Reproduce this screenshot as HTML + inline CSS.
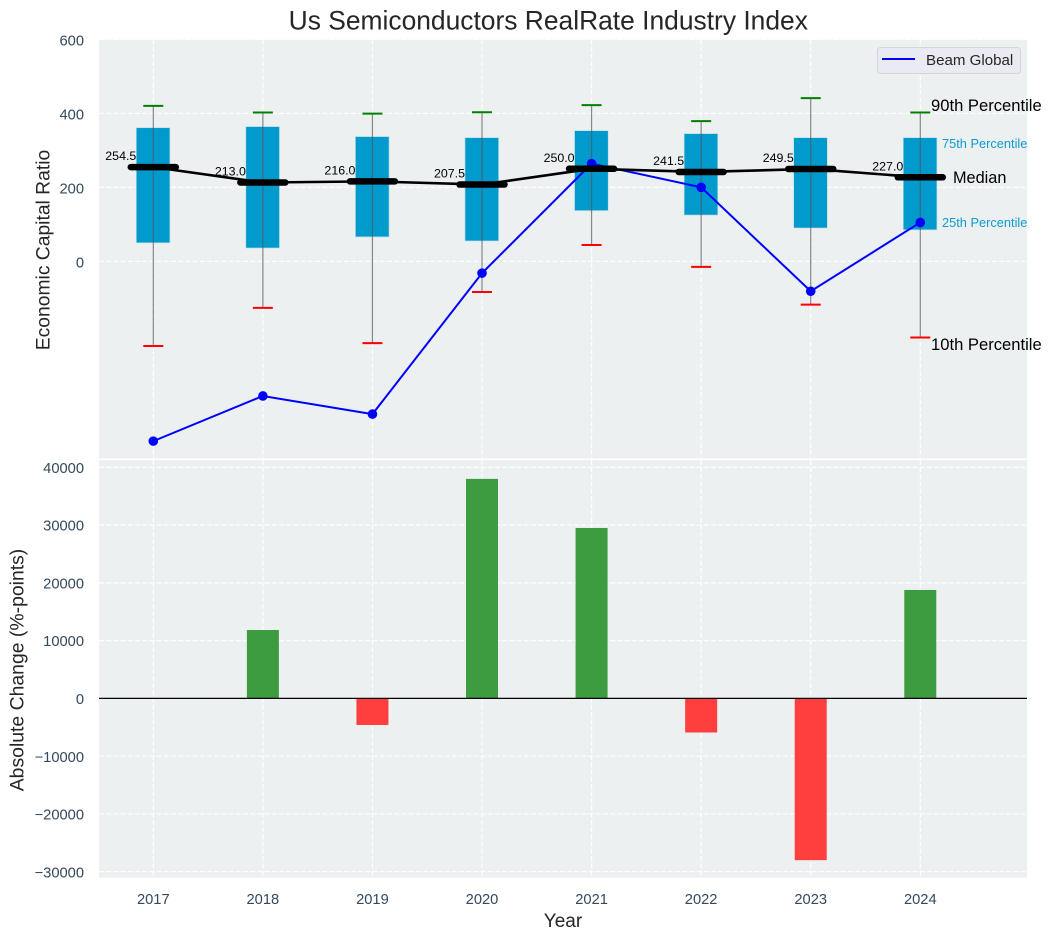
<!DOCTYPE html>
<html lang="en">
<head>
<meta charset="utf-8">
<title>Us Semiconductors RealRate Industry Index</title>
<style>
html,body{margin:0;padding:0;background:#fff;}
svg{display:block;font-family:"Liberation Sans",Arial,sans-serif;}
</style>
</head>
<body>
<svg id="chart" xmlns="http://www.w3.org/2000/svg" width="1051" height="940" viewBox="0 0 1051 940">
  <rect x="99" y="39.5" width="928" height="419" fill="#ecf0f1"/>
  <rect x="99" y="460" width="928" height="417.7" fill="#ecf0f1"/>
  <g id="grid"></g>
  <g id="bars"></g>
  <line x1="99" x2="1027" y1="698.4" y2="698.4" stroke="#000" stroke-width="1.2"/>
  <g id="boxes"></g>
  <g id="series"></g>
  <g id="medians"></g>
  <g id="ticks" font-size="14.7" fill="#34495e"></g>
  <text x="548.3" y="29.5" text-anchor="middle" font-size="26.4" fill="#262626">Us Semiconductors RealRate Industry Index</text>
  <text transform="translate(49.5,250) rotate(-90)" text-anchor="middle" font-size="19.3" fill="#262626">Economic Capital Ratio</text>
  <text transform="translate(23.5,670) rotate(-90)" text-anchor="middle" font-size="19.4" fill="#262626">Absolute Change (%-points)</text>
  <text x="563" y="927" text-anchor="middle" font-size="19" fill="#262626">Year</text>
  <g>
    <rect x="877.5" y="47.5" width="143" height="26" rx="3" fill="#eaeaf2" stroke="#d4d4da"/>
    <line x1="882" x2="915" y1="59" y2="59" stroke="#0000ff" stroke-width="2"/>
    <text x="926" y="65" font-size="15.1" fill="#262626">Beam Global</text>
  </g>
  <text x="931" y="111" font-size="16.6" fill="#000">90th Percentile</text>
  <text x="942" y="148" font-size="12.8" fill="#0e9ccf">75th Percentile</text>
  <text x="953" y="183" font-size="16.3" fill="#000">Median</text>
  <text x="942" y="227" font-size="12.8" fill="#0e9ccf">25th Percentile</text>
  <text x="931" y="350" font-size="16.6" fill="#000">10th Percentile</text>
</svg>
<script>
const years = [2017, 2018, 2019, 2020, 2021, 2022, 2023, 2024];
const p90 = [420, 402, 399, 403, 422, 379, 441, 402];
const p75 = [361, 364, 337, 334, 353, 345, 334, 334];
const medianValues = [254.5, 213.0, 216.0, 207.5, 250.0, 241.5, 249.5, 227.0];
const p25 = [50, 36, 66, 55, 137, 125, 90, 85];
const p10 = [-229, -126, -221, -83, 44, -15, -117, -206];
const beamGlobal = [-486, -364, -413, -32, 264, 200, -81, 105];
const absoluteChange = [0, 11840, -4600, 38000, 29500, -5900, -28000, 18770];
const topTicks = [0, 200, 400, 600];
const bottomTicks = [-30000, -20000, -10000, 0, 10000, 20000, 30000, 40000];

const NS = 'http://www.w3.org/2000/svg';
const xScale = function (year) { return 153.3 + (year - 2017) * 109.57; };
const yTop = function (v) { return 261.3 - v * 0.37; };
const yBottom = function (v) { return 698.4 - v * 0.005777; };

function make(tag, parent, attrs, text) {
  const el = document.createElementNS(NS, tag);
  for (const k in attrs) { el.setAttribute(k, attrs[k]); }
  if (text !== undefined) { el.textContent = text; }
  parent.appendChild(el);
  return el;
}
function minusFormat(v) { return v < 0 ? '\u2212' + Math.abs(v) : String(v); }

const grid = document.getElementById('grid');
const bars = document.getElementById('bars');
const boxes = document.getElementById('boxes');
const series = document.getElementById('series');
const medians = document.getElementById('medians');
const ticks = document.getElementById('ticks');
const gridStyle = { stroke: '#ffffff', 'stroke-width': 1.2, 'stroke-dasharray': '5 2.2' };

years.forEach(function (year) {
  const x = xScale(year);
  const g1 = make('line', grid, Object.assign({ x1: x, x2: x, y1: 39.5, y2: 458.5 }, gridStyle));
  
  
  const g2 = make('line', grid, Object.assign({ x1: x, x2: x, y1: 460, y2: 877.7 }, gridStyle));
  
  
  const t = make('text', ticks, { x: x, y: 904, 'text-anchor': 'middle' }, String(year));
  
  
});

topTicks.forEach(function (v) {
  const y = yTop(v);
  const g = make('line', grid, Object.assign({ x1: 99, x2: 1027, y1: y, y2: y }, gridStyle));
  
  
  const t = make('text', ticks, { x: 84, y: y + 6, 'text-anchor': 'end' }, minusFormat(v));
  
  
});

bottomTicks.forEach(function (v) {
  const y = yBottom(v);
  const g = make('line', grid, Object.assign({ x1: 99, x2: 1027, y1: y, y2: y }, gridStyle));
  
  
  const t = make('text', ticks, { x: 84, y: y + 5.6, 'text-anchor': 'end' }, minusFormat(v));
  
  
});

absoluteChange.forEach(function (v, i) {
  if (v === 0) { return; }
  const x = xScale(years[i]);
  const y0 = yBottom(0);
  const y1 = yBottom(v);
  const bar = make('rect', bars, {
    x: x - 16, y: Math.min(y0, y1), width: 32, height: Math.abs(y1 - y0),
    fill: v > 0 ? '#3c9c3f' : '#ff3e3e'
  });
  
  
});

years.forEach(function (year, i) {
  const x = xScale(year);
  const box = make('rect', boxes, {
    x: x - 17, y: yTop(p75[i]), width: 33.6, height: yTop(p25[i]) - yTop(p75[i]),
    fill: '#009acd', stroke: '#b8dcea', 'stroke-width': 0.6
  });
  
  
  const whisker = make('line', boxes, {
    x1: x, x2: x, y1: yTop(p10[i]), y2: yTop(p90[i]), stroke: '#555555', 'stroke-opacity': 0.7, 'stroke-width': 1.2
  });
  
  
  const capHigh = make('line', boxes, {
    x1: x - 10, x2: x + 10, y1: yTop(p90[i]), y2: yTop(p90[i]), stroke: '#008000', 'stroke-width': 2
  });
  
  
  const capLow = make('line', boxes, {
    x1: x - 10, x2: x + 10, y1: yTop(p10[i]), y2: yTop(p10[i]), stroke: '#ff0000', 'stroke-width': 2
  });
  
  
});

const beamLine = make('polyline', series, {
  points: years.map(function (year, i) { return xScale(year) + ',' + yTop(beamGlobal[i]); }).join(' '),
  fill: 'none', stroke: '#0000ff', 'stroke-width': 2
});


years.forEach(function (year, i) {
  const dot = make('circle', series, { cx: xScale(year), cy: yTop(beamGlobal[i]), r: 4.8, fill: '#0000ff' });
  
  
});

const medianLine = make('polyline', medians, {
  points: years.map(function (year, i) { return xScale(year) + ',' + yTop(medianValues[i]); }).join(' '),
  fill: 'none', stroke: '#000000', 'stroke-width': 2.6
});


years.forEach(function (year, i) {
  const x = xScale(year);
  const y = yTop(medianValues[i]);
  const seg = make('line', medians, {
    x1: x - 22.5, x2: x + 22.5, y1: y, y2: y, stroke: '#000000', 'stroke-width': 6.5, 'stroke-linecap': 'round'
  });
  
  
  const label = make('text', medians, {
    x: x - 17, y: y - 7, 'text-anchor': 'end', 'font-size': 12.4, fill: '#000000'
  }, medianValues[i].toFixed(1));
  
  
});
</script>
</body>
</html>
